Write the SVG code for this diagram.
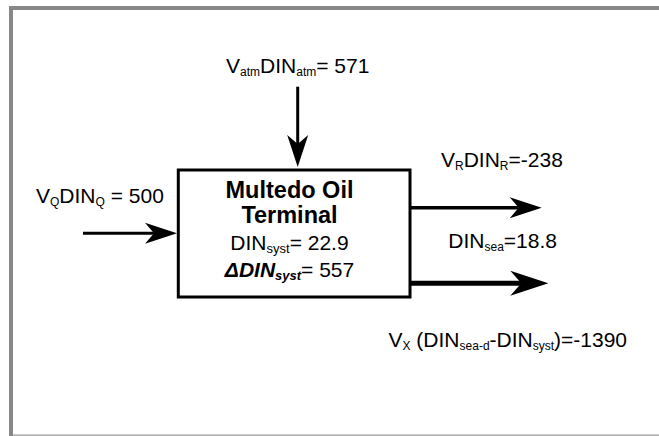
<svg xmlns="http://www.w3.org/2000/svg" width="659" height="436" viewBox="0 0 659 436">
<style>
.t{font-family:"Liberation Sans",Arial,sans-serif;font-size:21px;fill:#000}
.t .s{font-size:12px}
.bt{font-family:"Liberation Sans",Arial,sans-serif;font-size:21px;fill:#000}
.bt .s{font-size:13px}
.ti{font-family:"Liberation Sans",Arial,sans-serif;font-size:23.5px;font-weight:bold;fill:#000}
.conn{stroke:#000;fill:none}
</style>
<defs>
<marker id="ah" markerUnits="userSpaceOnUse" markerWidth="33" markerHeight="22" refX="9" refY="10.5" orient="auto" overflow="visible">
<path d="M0,0 L32,10.5 L0,21 L9,10.5 Z" fill="#000"/>
</marker>
<marker id="ahL" markerUnits="userSpaceOnUse" markerWidth="39" markerHeight="26" refX="11" refY="12.5" orient="auto" overflow="visible">
<path d="M0,0 L38,12.5 L0,25 L11,12.5 Z" fill="#000"/>
</marker>
</defs>
<rect x="0" y="0" width="659" height="436" fill="#fff"/>
<g id="frame">
<path d="M11,436 V8 H659" fill="none" stroke="#888" stroke-width="4"/>
<rect x="13" y="434.3" width="646" height="1.7" fill="#b4b4b4"/>
</g>
<g id="connectors">
<line class="conn" x1="297.7" y1="86.7" x2="297.7" y2="144" stroke-width="3" marker-end="url(#ah)"/>
<line class="conn" x1="83" y1="233.3" x2="154" y2="233.3" stroke-width="3" marker-end="url(#ah)"/>
<line class="conn" x1="410" y1="207.7" x2="518.7" y2="207.7" stroke-width="3.5" marker-end="url(#ah)"/>
<line class="conn" x1="410" y1="283.3" x2="521.3" y2="283.3" stroke-width="5" marker-end="url(#ahL)"/>
</g>
<g id="terminal">
<rect x="178.3" y="170" width="231.7" height="127" fill="#fff" stroke="#000" stroke-width="3"/>
<text class="ti" x="289.5" y="198" text-anchor="middle">Multedo Oil</text>
<text class="ti" x="289.5" y="222.7" text-anchor="middle">Terminal</text>
<text class="bt" x="289.5" y="250" text-anchor="middle">DIN<tspan class="s" dy="3">syst</tspan><tspan dy="-3">= 22.9</tspan></text>
<text class="bt" x="289.5" y="276.7" text-anchor="middle"><tspan font-weight="bold" font-style="italic">ΔDIN</tspan><tspan class="s" font-weight="bold" font-style="italic" dy="3">syst</tspan><tspan dy="-3">= 557</tspan></text>
</g>
<g id="label-atm">
<text class="t" x="226" y="73.3">V<tspan class="s" dy="3">atm</tspan><tspan dy="-3">DIN</tspan><tspan class="s" dy="3">atm</tspan><tspan dy="-3">= 571</tspan></text>
</g>
<g id="label-q">
<text class="t" x="36" y="203.3">V<tspan class="s" dy="3">Q</tspan><tspan dy="-3">DIN</tspan><tspan class="s" dy="3">Q</tspan><tspan dy="-3"> = 500</tspan></text>
</g>
<g id="label-r">
<text class="t" x="441" y="166.7">V<tspan class="s" dy="3">R</tspan><tspan dy="-3">DIN</tspan><tspan class="s" dy="3">R</tspan><tspan dy="-3">=-238</tspan></text>
</g>
<g id="label-sea">
<text class="t" x="448.3" y="248.3">DIN<tspan class="s" dy="3">sea</tspan><tspan dy="-3">=18.8</tspan></text>
</g>
<g id="label-x">
<text class="t" x="388.5" y="346.7">V<tspan class="s" dy="3">X</tspan><tspan dy="-3"> (DIN</tspan><tspan class="s" dy="3">sea-d</tspan><tspan dy="-3">-DIN</tspan><tspan class="s" dy="3">syst</tspan><tspan dy="-3">)=-1390</tspan></text>
</g>
</svg>
